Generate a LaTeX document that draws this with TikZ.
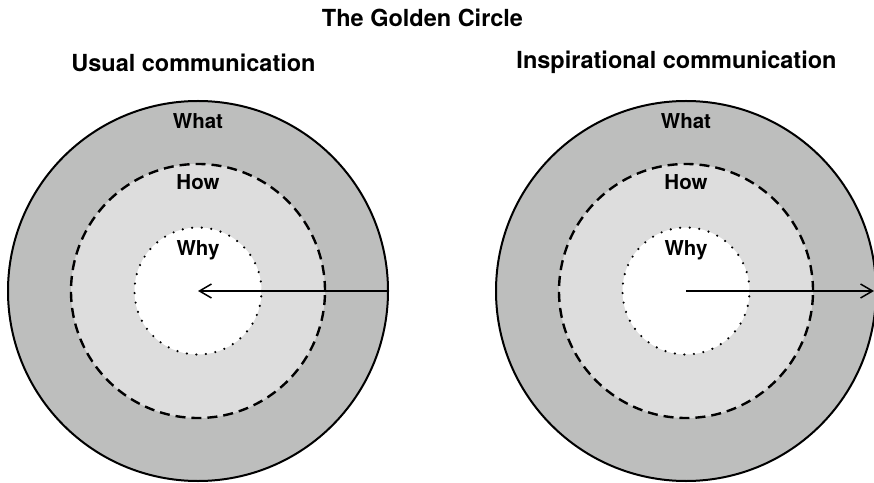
\documentclass[tikz,border=0pt]{standalone}
\usepackage{fontspec}
\setmainfont{TeX Gyre Heros}
\usetikzlibrary{arrows.meta}

\begin{document}
\begin{tikzpicture}[x=1pt,y=1pt,
  ring/.style={circle,inner sep=0pt,outer sep=0pt},
  whatring/.style={ring,minimum size=380pt,fill={rgb,255:red,189;green,190;blue,189},draw=black,line width=2pt},
  howring/.style={ring,minimum size=254pt,fill={rgb,255:red,221;green,221;blue,221},draw=black,line width=2.4pt,dash pattern=on 10pt off 6pt},
  whyring/.style={ring,minimum size=127pt,fill=white,draw=black,line width=2.4pt,line cap=round,dash pattern=on 0pt off 9.6pt},
  heading/.style={anchor=base,font=\fontsize{23.5}{28}\selectfont\bfseries},
  ringlabel/.style={anchor=base,font=\fontsize{20.5}{24}\selectfont\bfseries},
  ray/.style={line width=1.5pt,-{Straight Barb[length=12pt,width=14pt,line width=1.5pt]}}]
\useasboundingbox (0,0) rectangle (874,482);
% titles
\node[heading] (title) at (422.5,455) {The Golden Circle};
\node[heading] (usual) at (193.5,410) {Usual communication};
\node[heading] (inspire) at (676.5,413) {Inspirational communication};
% usual: outside in
\node[whatring] (whatL) at (198,191) {};
\node[howring] (howL) at (198,191) {};
\node[whyring] (whyL) at (198,191) {};
\node[ringlabel] (whatLtext) at (198,353) {What};
\node[ringlabel] (howLtext) at (198,292) {How};
\node[ringlabel] (whyLtext) at (198,226) {Why};
\draw[ray] (whatL.east) -- (whatL.center);
% inspirational: inside out
\node[whatring] (whatR) at (686,191) {};
\node[howring] (howR) at (686,191) {};
\node[whyring] (whyR) at (686,191) {};
\node[ringlabel] (whatRtext) at (686,353) {What};
\node[ringlabel] (howRtext) at (686,292) {How};
\node[ringlabel] (whyRtext) at (686,226) {Why};
\coordinate (rayend) at (874,191);
\draw[ray] (whatR.center) -- (rayend);
\end{tikzpicture}
\end{document}
